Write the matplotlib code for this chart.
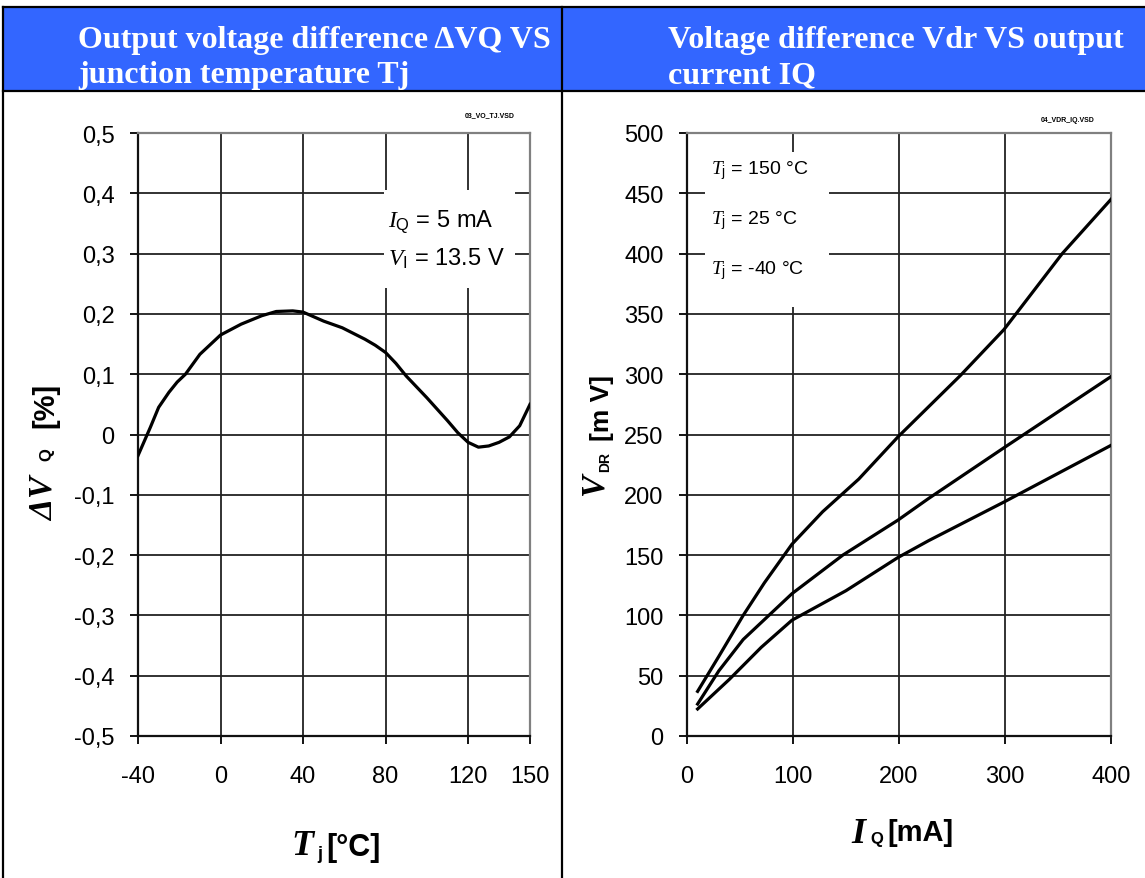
import numpy as np
import matplotlib
matplotlib.use("Agg")
import matplotlib.pyplot as plt
from matplotlib.patches import Rectangle

# ---- data ----
# left: output voltage difference vs junction temperature
tj = [-40, -34, -30, -25, -21, -17, -10, 0, 10, 20, 27, 35, 40, 50, 59, 70, 75, 80,
      85, 90, 100, 110, 115, 120, 125, 130, 135, 140, 145, 150]
dvq = [-0.035, 0.012, 0.045, 0.07, 0.087, 0.10, 0.133, 0.165, 0.183, 0.197, 0.204,
       0.205, 0.203, 0.188, 0.177, 0.158, 0.148, 0.136, 0.118, 0.097, 0.061, 0.023,
       0.003, -0.013, -0.021, -0.019, -0.013, -0.004, 0.0145, 0.05]

# right: drop voltage vs output current, three temperatures
iq_150 = [10, 30, 53, 73, 99, 128, 162, 199, 258, 299, 354, 400]
vdr_150 = [37, 66, 100, 127, 159, 186, 213, 248, 299, 337, 400, 445]
iq_25 = [10, 30, 53, 99, 147, 199, 228, 299, 400]
vdr_25 = [26.5, 54, 80, 118, 150, 179, 197, 239, 298]
iq_m40 = [10, 40, 70, 99, 150, 199, 228, 299, 400]
vdr_m40 = [22.4, 47, 73.5, 96, 120.5, 148, 162, 194, 241]

left_xticks = [-40, 0, 40, 80, 120, 150]
left_yticks = [-0.5, -0.4, -0.3, -0.2, -0.1, 0, 0.1, 0.2, 0.3, 0.4, 0.5]
right_xticks = [0, 100, 200, 300, 400]
right_yticks = list(range(0, 501, 50))

header_left = ["Output voltage difference \u0394VQ VS", "junction temperature Tj"]
header_right = ["Voltage difference Vdr VS output", "current IQ"]
legend_right = ["150 \u00b0C", "25 \u00b0C", "-40 \u00b0C"]

# ---- fonts ----
plt.rcParams['font.family'] = ['Liberation Sans', 'DejaVu Sans']
plt.rcParams['axes.unicode_minus'] = False
plt.rcParams['mathtext.fontset'] = 'custom'
plt.rcParams['mathtext.rm'] = 'Liberation Sans'
plt.rcParams['mathtext.it'] = 'Liberation Serif:italic'
plt.rcParams['mathtext.bf'] = 'Liberation Serif:italic:bold'
plt.rcParams['mathtext.sf'] = 'Liberation Sans:bold'

W, H = 1145, 879
fig = plt.figure(figsize=(W / 100, H / 100), dpi=100)


def fx(px):
    return px / W


def fy(py):
    return 1 - py / H


# ---- table frame and blue header ----
fig.patches.append(Rectangle((fx(3), fy(92)), fx(1145 - 3), fy(8) - fy(92),
                             transform=fig.transFigure, facecolor='#3366ff',
                             edgecolor='none', zorder=0))
for y in (8, 92):
    fig.add_artist(plt.Line2D([fx(3), 1], [fy(y), fy(y)], color='black', lw=1.6))
for x in (3, 562):
    fig.add_artist(plt.Line2D([fx(x), fx(x)], [fy(8), 0], color='black', lw=1.6))

serif = 'Liberation Serif'
for i, line in enumerate(header_left):
    fig.text(fx(78), fy(48 + 35 * i), line, color='white', fontsize=23,
             fontweight='bold', family=serif, va='baseline', ha='left')
for i, line in enumerate(header_right):
    fig.text(fx(668), fy(48 + 35 * i), line, color='white', fontsize=23,
             fontweight='bold', family=serif, va='baseline', ha='left')

fig.text(fx(490), fy(116), "03_VO_TJ.VSD", fontsize=5, fontweight='bold', ha='center', va='center')
fig.text(fx(1068), fy(121), "04_VDR_IQ.VSD", fontsize=5, fontweight='bold', ha='center', va='center')


def style_axes(ax):
    ax.grid(True, color='#222222', lw=1.3)
    ax.set_axisbelow(True)
    for s in ('top', 'right'):
        ax.spines[s].set_color('#808080')
        ax.spines[s].set_linewidth(1.6)
    for s in ('left', 'bottom'):
        ax.spines[s].set_color('#111111')
        ax.spines[s].set_linewidth(1.6)
    ax.tick_params(direction='out', length=6, width=1.3, labelsize=17)
    ax.tick_params(axis='x', pad=15)
    ax.tick_params(axis='y', pad=11)


# ---- left chart ----
ax1 = fig.add_axes([fx(138), fy(737), fx(530 - 138), fy(134) - fy(737)])
ax1.plot(tj, dvq, color='black', lw=2.3, zorder=4)
ax1.set_xlim(-40, 150)
ax1.set_ylim(-0.5, 0.5)
ax1.set_xticks(left_xticks)
ax1.set_yticks(left_yticks)
ax1.set_yticklabels(["0" if v == 0 else f"{v:.1f}".replace('.', ',') for v in left_yticks])
style_axes(ax1)
ax1.add_patch(Rectangle((79, 0.243), 63.5, 0.162, facecolor='white',
                        edgecolor='none', zorder=3))
ax1.text(81, 0.347, r"$\mathit{I}_{\mathrm{Q}}$ = 5 mA", fontsize=17, va='baseline', zorder=5)
ax1.text(81, 0.281, r"$\mathit{V}_{\mathrm{I}}$ = 13.5 V", fontsize=17, va='baseline', zorder=5)

# axis labels of the left chart
fig.text(fx(43), fy(497), r"$\mathbf{\Delta V}$", fontsize=24, rotation=90, ha='center', va='center')
fig.text(fx(47), fy(455), "Q", fontsize=12, fontweight='bold', rotation=90, ha='center', va='center')
fig.text(fx(45), fy(405), "[%]", fontsize=21, fontweight='bold', rotation=90, ha='center', va='center')
fig.text(fx(304), fy(846), r"$\mathbf{T}$", fontsize=26, ha='center', va='center')
fig.text(fx(320), fy(855), "j", fontsize=13, fontweight='bold', ha='center', va='center')
fig.text(fx(353), fy(848), "[\u00b0C]", fontsize=22, fontweight='bold', ha='center', va='center')

# ---- right chart ----
ax2 = fig.add_axes([fx(687), fy(737), fx(1111 - 687), fy(134) - fy(737)])
for x, y in ((iq_150, vdr_150), (iq_25, vdr_25), (iq_m40, vdr_m40)):
    ax2.plot(x, y, color='black', lw=2.3, zorder=4)
ax2.set_xlim(0, 400)
ax2.set_ylim(0, 500)
ax2.set_xticks(right_xticks)
ax2.set_yticks(right_yticks)
style_axes(ax2)
ax2.add_patch(Rectangle((16.6, 355.7), 117.4, 128.3, facecolor='white',
                        edgecolor='none', zorder=3))
for i, t in enumerate(legend_right):
    ax2.text(23, 470 - 41.5 * i, r"$\mathit{T}_{\mathrm{j}}$" + " = " + t,
             fontsize=14, va='center', zorder=5)

fig.text(fx(596), fy(485), r"$\mathbf{V}$", fontsize=24, rotation=90, ha='center', va='center')
fig.text(fx(605), fy(462), "DR", fontsize=10, fontweight='bold', rotation=90, ha='center', va='center')
fig.text(fx(602), fy(408), "[m V]", fontsize=19, fontweight='bold', rotation=90, ha='center', va='center')
fig.text(fx(860), fy(834), r"$\mathbf{I}$", fontsize=26, ha='center', va='center')
fig.text(fx(877), fy(840), "Q", fontsize=12, fontweight='bold', ha='center', va='center')
fig.text(fx(920), fy(833), "[mA]", fontsize=21, fontweight='bold', ha='center', va='center')

fig.savefig("out.png", dpi=100)
